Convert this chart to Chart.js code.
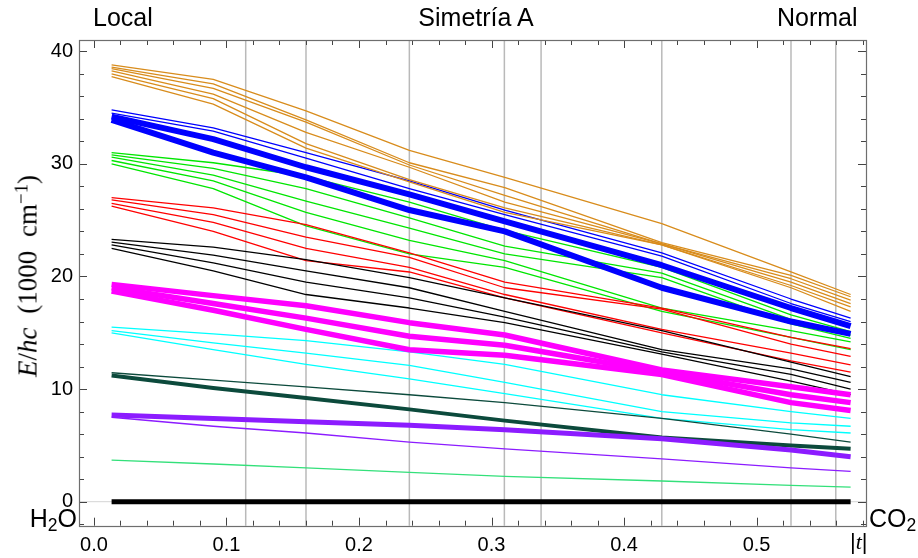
<!DOCTYPE html>
<html lang="es">
<head>
  <meta charset="UTF-8" />
  <title>Simetría A</title>
  <script src="https://cdn.jsdelivr.net/npm/chart.js"></script>
  <style>
    html, body { margin: 0; padding: 0; background: #fff; }
    #wrap { position: relative; width: 918px; height: 558px; font-family: "Liberation Sans", Arial, sans-serif; color: #000; }
    #wrap canvas { position: absolute; left: 0; top: 0; }
    .lbl { position: absolute; font-size: 25px; line-height: 1; white-space: nowrap; }
    .lbl sub { font-size: 0.7em; vertical-align: -0.25em; line-height: 0; }
    #ytitle { position: absolute; left: 28px; top: 276px; transform: translate(-50%, -50%) rotate(-90deg);
              font-family: "Liberation Serif", "Times New Roman", serif; font-size: 27px; white-space: nowrap; line-height: 1; word-spacing: 7px; }
    #ytitle sup { font-size: 0.7em; vertical-align: 0.5em; line-height: 0; }
    #tlabel { position: absolute; left: 850px; top: 531px; font-size: 22px; line-height: 1; }
  </style>
</head>
<body>
  <div id="wrap">
    <canvas id="levels" width="918" height="558"></canvas>
    <div class="lbl" style="left:93px; top:5px;">Local</div>
    <div class="lbl" style="left:476px; top:5px; transform:translateX(-50%);">Simetría A</div>
    <div class="lbl" style="left:777px; top:5px;">Normal</div>
    <div class="lbl" style="right:841px; top:506px;">H<sub>2</sub>O</div>
    <div class="lbl" style="left:869px; top:506px;">CO<sub>2</sub></div>
    <div id="tlabel">|<i style="font-family:'Liberation Serif',serif;">t</i>|</div>
    <div id="ytitle"><i>E</i>/<i>hc</i> (1000 cm<sup>−1</sup>)</div>
  </div>

  <script>
    // sample points in |t| shared by every level curve
    const T = [0.0133, 0.09, 0.16, 0.238, 0.31, 0.4285, 0.526, 0.571];

    // vertical reference lines
    const GRID_T = [0.1145, 0.160, 0.238, 0.3097, 0.3374, 0.4285, 0.526, 0.5598];

    // tick labels
    const X_LABELS = [0, 0.1, 0.2, 0.3, 0.4, 0.5];
    const Y_LABELS = [0, 10, 20, 30, 40];

    const orange = [
      [38.8, 37.5, 34.7, 31.2, 28.8, 24.7, 20.4, 18.4],
      [38.6, 37.1, 33.9, 30.1, 27.9, 23.0, 20.1, 18.2],
      [38.45, 36.7, 33.7, 29.9, 27.2, 22.9, 19.8, 17.9],
      [38.25, 36.2, 32.8, 29.7, 26.6, 22.9, 19.5, 17.6],
      [38.0, 35.8, 31.8, 28.6, 26.1, 22.8, 19.2, 17.3],
      [37.75, 35.3, 31.4, 28.4, 25.7, 22.8, 19.0, 16.9]
    ];
    const blueThin = [
      [34.8, 33.2, 31.0, 28.5, 25.9, 22.1, 18.0, 16.3],
      [34.5, 32.9, 30.5, 27.8, 25.5, 21.8, 17.6, 16.0]
    ];
    const blueThick = [
      [34.2, 32.2, 29.7, 27.3, 24.9, 21.0, 17.2, 15.6],
      [33.9, 31.0, 28.8, 25.9, 24.0, 19.0, 16.0, 14.9]
    ];
    const green = [
      [31.0, 30.1, 28.9, 26.6, 24.1, 20.8, 16.6, 15.1],
      [30.8, 29.6, 27.8, 25.2, 22.7, 20.3, 16.2, 14.8],
      [30.6, 29.0, 26.7, 24.3, 22.0, 19.9, 15.8, 14.5],
      [30.3, 28.5, 25.7, 23.2, 21.4, 17.2, 15.2, 14.2],
      [30.0, 27.8, 24.5, 22.0, 20.8, 16.9, 14.6, 13.5]
    ];
    const red = [
      [27.0, 26.1, 24.6, 22.1, 19.5, 17.2, 14.6, 13.6],
      [26.8, 25.5, 23.5, 21.7, 19.0, 17.1, 14.0, 12.9],
      [26.5, 24.8, 22.5, 20.8, 18.4, 15.3, 13.2, 12.15],
      [26.25, 24.0, 21.4, 20.4, 18.1, 15.0, 12.5, 11.5]
    ];
    const black = [
      [23.3, 22.6, 21.5, 19.9, 18.1, 15.2, 12.4, 11.1],
      [23.05, 21.9, 20.5, 19.0, 16.9, 13.5, 11.8, 10.6],
      [22.8, 21.2, 19.5, 18.1, 16.4, 13.3, 11.3, 10.0],
      [22.5, 20.5, 18.4, 17.2, 15.9, 13.1, 10.7, 9.5]
    ];
    const magenta = [
      [19.3, 18.3, 17.4, 15.9, 14.8, 11.7, 10.2, 9.5],
      [19.0, 17.6, 16.3, 14.7, 13.9, 11.5, 9.5, 8.8],
      [18.7, 17.0, 15.3, 13.5, 13.0, 11.3, 8.8, 8.1]
    ];
    const cyan = [
      [15.5, 14.9, 14.3, 13.3, 12.2, 9.5, 8.0, 7.4],
      [15.2, 14.1, 13.2, 12.1, 10.6, 8.0, 7.0, 6.7],
      [15.0, 13.5, 12.2, 10.9, 9.6, 7.4, 6.4, 6.1]
    ];
    const darkGreenThin = [11.45, 10.8, 10.2, 9.5, 8.8, 7.4, 6.0, 5.3];
    const darkGreenThick = [11.2, 10.1, 9.2, 8.2, 7.2, 5.7, 5.0, 4.7];
    const purpleThick = [7.7, 7.4, 7.1, 6.8, 6.4, 5.6, 4.6, 4.0];
    const purpleThin = [7.5, 6.7, 6.1, 5.3, 4.7, 3.8, 3.0, 2.7];
    const lightGreen = [3.7, 3.35, 3.0, 2.6, 2.25, 1.84, 1.45, 1.3];
    const ground = [0, 0, 0, 0, 0, 0, 0, 0];

    const X_MIN = -0.0113, X_MAX = 0.5826;
    const Y_MIN = -2.13, Y_MAX = 41;

    const datasets = [];
    function addLine(vals, color, width) {
      datasets.push({
        data: vals.map((v, i) => ({ x: T[i], y: v })),
        borderColor: color,
        borderWidth: width,
        pointRadius: 0,
        tension: 0,
        fill: false,
        borderCapStyle: 'butt',
        borderJoinStyle: 'round'
      });
    }

    // bottom first, later ones drawn on top
    green.forEach(v => addLine(v, '#00e600', 1.3));
    red.forEach(v => addLine(v, '#ff0000', 1.3));
    black.forEach(v => addLine(v, '#000000', 1.3));
    cyan.forEach(v => addLine(v, '#00ffff', 1.3));
    magenta.forEach(v => addLine(v, '#ff00ff', 5.5));
    addLine(darkGreenThin, '#0c4a3c', 1.3);
    addLine(darkGreenThick, '#0c4a3c', 4);
    addLine(purpleThin, '#8c1cff', 1.3);
    addLine(purpleThick, '#8c1cff', 5);
    addLine(lightGreen, '#33e07a', 1.3);
    addLine(ground, '#000000', 5);
    blueThin.forEach(v => addLine(v, '#0000ff', 1.3));
    blueThick.forEach(v => addLine(v, '#0000ff', 6));
    orange.forEach(v => addLine(v, '#d88c1c', 1.3));
    datasets.forEach((d, i) => { d.order = -i; });

    const isMultiple = (v, step) => Math.abs(v / step - Math.round(v / step)) < 1e-6;

    const framePlugin = {
      id: 'framePlugin',
      beforeDatasetsDraw(chart) {
        const { ctx, chartArea: a, scales: { x, y } } = chart;
        ctx.save();
        ctx.strokeStyle = '#b9b9b9';
        ctx.lineWidth = 1.5;
        GRID_T.forEach(t => {
          const px = x.getPixelForValue(t);
          ctx.beginPath(); ctx.moveTo(px, a.top); ctx.lineTo(px, a.bottom); ctx.stroke();
        });
        ctx.strokeStyle = '#d4d4d4';
        ctx.lineWidth = 1;
        const p0 = y.getPixelForValue(0);
        ctx.beginPath(); ctx.moveTo(a.left, p0); ctx.lineTo(a.right, p0); ctx.stroke();
        ctx.restore();
      },
      afterDraw(chart) {
        const { ctx, chartArea: a, scales: { x, y } } = chart;
        ctx.save();
        ctx.strokeStyle = '#444';
        ctx.lineWidth = 1;
        for (let i = 0; i <= 29; i++) {
          const t = i * 0.02;
          const px = Math.round(x.getPixelForValue(t)) + 0.5;
          const len = isMultiple(t, 0.1) ? 8 : 5;
          ctx.beginPath();
          ctx.moveTo(px, a.bottom); ctx.lineTo(px, a.bottom - len);
          ctx.moveTo(px, a.top); ctx.lineTo(px, a.top + len);
          ctx.stroke();
        }
        for (let v = -2; v <= 40; v += 2) {
          const py = Math.round(y.getPixelForValue(v)) + 0.5;
          const len = v % 10 === 0 ? 8 : 5;
          ctx.beginPath();
          ctx.moveTo(a.left, py); ctx.lineTo(a.left + len, py);
          ctx.moveTo(a.right, py); ctx.lineTo(a.right - len, py);
          ctx.stroke();
        }
        ctx.strokeStyle = '#6e6e6e';
        ctx.lineWidth = 1.2;
        ctx.strokeRect(Math.round(a.left) + 0.5, Math.round(a.top) + 0.5,
          Math.round(a.right - a.left), Math.round(a.bottom - a.top));
        ctx.restore();
      }
    };

    const tickFont = { family: "'Liberation Sans', Arial, sans-serif", size: 20 };

    new Chart(document.getElementById('levels'), {
      type: 'line',
      data: { datasets },
      options: {
        responsive: false,
        animation: false,
        devicePixelRatio: 1,
        layout: { padding: { top: 40, right: 52, left: 0, bottom: 0 } },
        plugins: { legend: { display: false }, tooltip: { enabled: false } },
        scales: {
          x: {
            type: 'linear', min: X_MIN, max: X_MAX,
            grid: { display: false, drawTicks: false },
            border: { display: false },
            afterBuildTicks: s => { s.ticks = X_LABELS.map(v => ({ value: v })); },
            ticks: {
              autoSkip: false, maxRotation: 0, padding: 8,
              color: '#000', font: tickFont,
              callback: v => v.toFixed(1)
            },
            afterFit: s => { s.height = 32.3; }
          },
          y: {
            min: Y_MIN, max: Y_MAX,
            grid: { display: false, drawTicks: false },
            border: { display: false },
            afterBuildTicks: s => { s.ticks = Y_LABELS.map(v => ({ value: v })); },
            ticks: {
              autoSkip: false, padding: 6,
              color: '#000', font: tickFont,
              callback: v => String(v)
            },
            afterFit: s => { s.width = 79; }
          }
        }
      },
      plugins: [framePlugin]
    });
  </script>
</body>
</html>
